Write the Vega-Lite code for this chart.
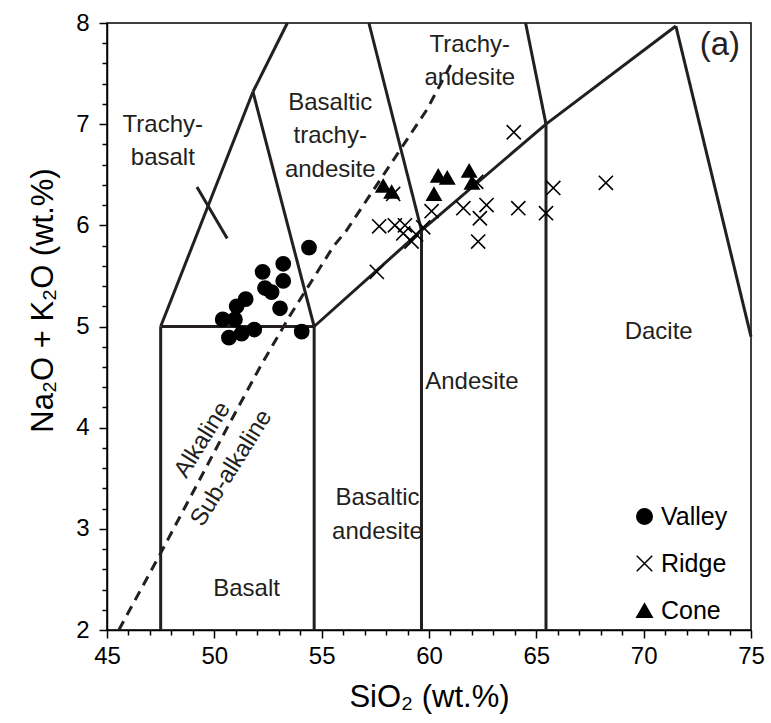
{
  "$schema": "https://vega.github.io/schema/vega-lite/v6.json",
  "width": 644,
  "height": 607,
  "autosize": {"type": "none"},
  "padding": {"left": 107, "top": 23, "right": 20, "bottom": 93},
  "background": "white",
  "config": {
    "view": {"stroke": "black", "strokeWidth": 1.5},
    "font": "Liberation Sans",
    "axis": {"grid": false, "domainColor": "black", "domainWidth": 1.5, "tickColor": "black", "tickWidth": 1.5, "labelColor": "black", "titleColor": "black", "labelFont": "Liberation Sans", "titleFont": "Liberation Sans", "titleFontWeight": "normal"}
  },
  "resolve": {"axis": {"x": "independent", "y": "independent"}},
  "datasets": {
    "pts": [
      {"group": "Valley", "sio2": 54.41, "alk": 5.78},
      {"group": "Valley", "sio2": 53.21, "alk": 5.62},
      {"group": "Valley", "sio2": 52.25, "alk": 5.54},
      {"group": "Valley", "sio2": 53.21, "alk": 5.45},
      {"group": "Valley", "sio2": 52.36, "alk": 5.38},
      {"group": "Valley", "sio2": 52.67, "alk": 5.34},
      {"group": "Valley", "sio2": 53.06, "alk": 5.18},
      {"group": "Valley", "sio2": 51.46, "alk": 5.27},
      {"group": "Valley", "sio2": 51.04, "alk": 5.2},
      {"group": "Valley", "sio2": 50.39, "alk": 5.07},
      {"group": "Valley", "sio2": 50.96, "alk": 5.07},
      {"group": "Valley", "sio2": 51.86, "alk": 4.97},
      {"group": "Valley", "sio2": 51.27, "alk": 4.93},
      {"group": "Valley", "sio2": 50.68, "alk": 4.89},
      {"group": "Valley", "sio2": 54.07, "alk": 4.95},
      {"group": "Ridge", "sio2": 57.57, "alk": 5.54},
      {"group": "Ridge", "sio2": 57.68, "alk": 5.99},
      {"group": "Ridge", "sio2": 58.41, "alk": 6.0},
      {"group": "Ridge", "sio2": 58.88, "alk": 6.0},
      {"group": "Ridge", "sio2": 58.8, "alk": 5.92},
      {"group": "Ridge", "sio2": 59.19, "alk": 5.84},
      {"group": "Ridge", "sio2": 59.4, "alk": 5.91},
      {"group": "Ridge", "sio2": 59.73, "alk": 5.98},
      {"group": "Ridge", "sio2": 60.12, "alk": 6.14},
      {"group": "Ridge", "sio2": 58.33, "alk": 6.31},
      {"group": "Ridge", "sio2": 61.6, "alk": 6.17},
      {"group": "Ridge", "sio2": 62.68, "alk": 6.2},
      {"group": "Ridge", "sio2": 62.37, "alk": 6.07},
      {"group": "Ridge", "sio2": 62.29, "alk": 5.84},
      {"group": "Ridge", "sio2": 62.2, "alk": 6.43},
      {"group": "Ridge", "sio2": 63.95, "alk": 6.92},
      {"group": "Ridge", "sio2": 64.16, "alk": 6.17},
      {"group": "Ridge", "sio2": 65.45, "alk": 6.12},
      {"group": "Ridge", "sio2": 65.79, "alk": 6.37},
      {"group": "Ridge", "sio2": 68.24, "alk": 6.42},
      {"group": "Cone", "sio2": 57.87, "alk": 6.39},
      {"group": "Cone", "sio2": 58.26, "alk": 6.33},
      {"group": "Cone", "sio2": 60.43, "alk": 6.49},
      {"group": "Cone", "sio2": 60.85, "alk": 6.47},
      {"group": "Cone", "sio2": 60.23, "alk": 6.31},
      {"group": "Cone", "sio2": 61.87, "alk": 6.54},
      {"group": "Cone", "sio2": 62.0, "alk": 6.42}
    ],
    "seg": [
      {"x": 47.5, "y": 2, "x2": 47.5, "y2": 5},
      {"x": 54.65, "y": 2, "x2": 54.65, "y2": 5},
      {"x": 59.65, "y": 2, "x2": 59.65, "y2": 5.95},
      {"x": 65.45, "y": 2, "x2": 65.45, "y2": 7.0},
      {"x": 47.5, "y": 5, "x2": 54.65, "y2": 5},
      {"x": 54.65, "y": 5, "x2": 59.65, "y2": 5.95},
      {"x": 59.65, "y": 5.95, "x2": 65.45, "y2": 7.0},
      {"x": 65.45, "y": 7.0, "x2": 71.5, "y2": 7.97},
      {"x": 71.5, "y": 7.97, "x2": 75, "y2": 4.9},
      {"x": 47.5, "y": 5, "x2": 51.8, "y2": 7.32},
      {"x": 51.8, "y": 7.32, "x2": 54.65, "y2": 5},
      {"x": 51.8, "y": 7.32, "x2": 53.4, "y2": 8},
      {"x": 59.65, "y": 5.95, "x2": 57.2, "y2": 8},
      {"x": 65.45, "y": 7.0, "x2": 64.5, "y2": 8},
      {"x": 49.19, "y": 6.38, "x2": 50.6, "y2": 5.87}
    ],
    "alkline": [
      {"o": 1, "x": 45.55, "y": 2.0},
      {"o": 2, "x": 47.5, "y": 2.76},
      {"o": 3, "x": 50.6, "y": 4.0},
      {"o": 4, "x": 52.13, "y": 4.6},
      {"o": 5, "x": 53.5, "y": 5.1},
      {"o": 6, "x": 55.54, "y": 5.79},
      {"o": 7, "x": 56.16, "y": 5.95},
      {"o": 8, "x": 59.89, "y": 7.14},
      {"o": 9, "x": 61.05, "y": 7.6}
    ],
    "labels": [
      {"t": "Trachy-", "x": 47.6, "y": 6.99},
      {"t": "basalt", "x": 47.6, "y": 6.67},
      {"t": "Basaltic", "x": 55.4, "y": 7.21},
      {"t": "trachy-", "x": 55.4, "y": 6.88},
      {"t": "andesite", "x": 55.4, "y": 6.55},
      {"t": "Trachy-", "x": 61.9, "y": 7.78},
      {"t": "andesite", "x": 61.9, "y": 7.46},
      {"t": "Dacite", "x": 70.7, "y": 4.95},
      {"t": "Andesite", "x": 62.0, "y": 4.45},
      {"t": "Basaltic", "x": 57.6, "y": 3.3},
      {"t": "andesite", "x": 57.6, "y": 2.97},
      {"t": "Basalt", "x": 51.5, "y": 2.41}
    ],
    "rotlabels": [
      {"t": "Alkaline", "x": 49.45, "y": 3.88},
      {"t": "Sub-alkaline", "x": 50.8, "y": 3.6}
    ],
    "panel": [
      {"t": "(a)", "x": 73.55, "y": 7.78}
    ]
  },
  "layer": [
    {
      "data": {"name": "seg"},
      "mark": {"type": "rule", "color": "#231f20", "strokeWidth": 3},
      "encoding": {
        "x": {"field": "x", "type": "quantitative", "scale": {"domain": [45, 75], "nice": false, "zero": false},
          "axis": {"orient": "bottom", "values": [45, 50, 55, 60, 65, 70, 75], "format": "d", "tickSize": 8,
            "labelFontSize": 24, "labelPadding": 6, "labelFlush": false, "title": "SiO₂ (wt.%)", "titleFontSize": 31, "titlePadding": 14}},
        "y": {"field": "y", "type": "quantitative", "scale": {"domain": [2, 8], "nice": false, "zero": false},
          "axis": {"orient": "left", "values": [2, 3, 4, 5, 6, 7, 8], "format": "d", "tickSize": 8,
            "labelFontSize": 24, "labelPadding": 10, "labelFlush": false, "title": "Na₂O + K₂O (wt.%)", "titleFontSize": 31, "titlePadding": 16, "titleY": 277}},
        "x2": {"field": "x2"},
        "y2": {"field": "y2"}
      }
    },
    {
      "data": {"name": "alkline"},
      "mark": {"type": "line", "color": "#231f20", "strokeWidth": 3, "strokeDash": [10, 7]},
      "encoding": {
        "x": {"field": "x", "type": "quantitative",
          "axis": {"orient": "bottom", "values": [46,47,48,49,51,52,53,54,56,57,58,59,61,62,63,64,66,67,68,69,71,72,73,74], "labels": false, "domain": false, "tickSize": 5, "title": null}},
        "y": {"field": "y", "type": "quantitative",
          "axis": {"orient": "left", "values": [2.2,2.4,2.6,2.8,3.2,3.4,3.6,3.8,4.2,4.4,4.6,4.8,5.2,5.4,5.6,5.8,6.2,6.4,6.6,6.8,7.2,7.4,7.6,7.8], "labels": false, "domain": false, "tickSize": 5, "title": null}},
        "order": {"field": "o", "type": "quantitative"}
      }
    },
    {
      "data": {"name": "labels"},
      "mark": {"type": "text", "fontSize": 24, "color": "#231f20", "align": "center", "baseline": "middle"},
      "encoding": {
        "x": {"field": "x", "type": "quantitative", "axis": null},
        "y": {"field": "y", "type": "quantitative", "axis": null},
        "text": {"field": "t"}
      }
    },
    {
      "data": {"name": "rotlabels"},
      "mark": {"type": "text", "fontSize": 24, "color": "#231f20", "align": "center", "baseline": "middle", "angle": 302},
      "encoding": {
        "x": {"field": "x", "type": "quantitative", "axis": null},
        "y": {"field": "y", "type": "quantitative", "axis": null},
        "text": {"field": "t"}
      }
    },
    {
      "data": {"name": "panel"},
      "mark": {"type": "text", "fontSize": 33, "color": "#231f20", "align": "center", "baseline": "middle"},
      "encoding": {
        "x": {"field": "x", "type": "quantitative", "axis": null},
        "y": {"field": "y", "type": "quantitative", "axis": null},
        "text": {"field": "t"}
      }
    },
    {
      "data": {"name": "pts"},
      "mark": {"type": "point", "filled": true, "fill": "black", "stroke": "black", "strokeWidth": 1.6, "opacity": 1, "size": 200},
      "encoding": {
        "x": {"field": "sio2", "type": "quantitative", "axis": null},
        "y": {"field": "alk", "type": "quantitative", "axis": null},
        "shape": {"field": "group", "type": "nominal",
          "scale": {"domain": ["Valley", "Ridge", "Cone"], "range": ["circle", "M-1,-1L1,1M1,-1L-1,1", "triangle-up"]},
          "legend": {"title": null, "orient": "none", "legendX": 525, "legendY": 481, "labelFontSize": 25, "labelFont": "Liberation Sans", "labelColor": "black", "symbolSize": 240, "rowPadding": 21, "labelOffset": 4,
            "encode": {"symbols": {"update": {"fill": {"value": "black"}, "stroke": {"value": "black"}, "strokeWidth": {"value": 1.6}, "opacity": {"value": 1}}}}}}
      }
    }
  ]
}
